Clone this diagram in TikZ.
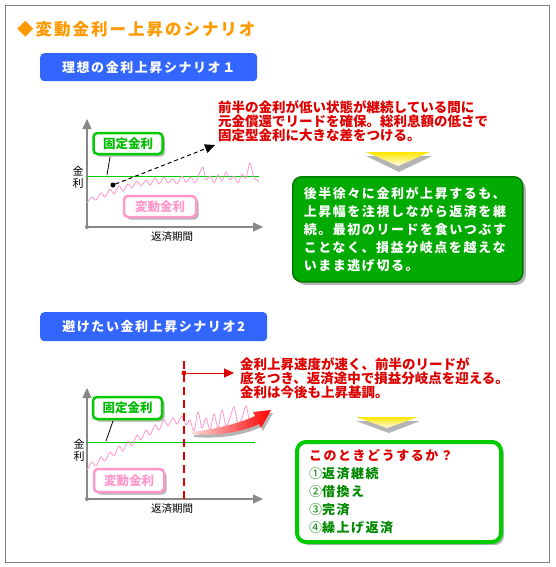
\documentclass[tikz,border=0pt]{standalone}
\usepackage{fontspec}
\setmainfont{Noto Sans CJK JP}
\newfontfamily\jpw{Noto Sans CJK JP}[LetterSpace=12]
\usetikzlibrary{positioning,arrows.meta,shadows}
\definecolor{frm}{HTML}{808080}
\definecolor{ttl}{HTML}{FF9900}
\definecolor{bnr}{HTML}{3366FF}
\definecolor{rtxt}{HTML}{DD0000}
\definecolor{fixg}{HTML}{00CC00}
\definecolor{fixt}{HTML}{00BB00}
\definecolor{pnk}{HTML}{FF99CC}
\definecolor{axg}{HTML}{888888}
\definecolor{boxg}{HTML}{00AA00}
\definecolor{boxd}{HTML}{007A00}
\definecolor{ltxt}{HTML}{008800}
\definecolor{shd}{HTML}{B4B4B4}
\definecolor{yel}{HTML}{FFE600}

\begin{document}
\begin{tikzpicture}[x=1pt,y=-1pt,
  ban/.style={fill=bnr,rounded corners=4pt,text=white,anchor=north west,inner sep=0pt,minimum height=28pt,font=\jpw\bfseries\fontsize{13}{13}\selectfont},
  tag/.style={draw,line width=2.5pt,rounded corners=4pt,fill=white,inner sep=0pt,minimum width=69pt,minimum height=21pt,font=\bfseries\fontsize{12.5}{12.5}\selectfont,drop shadow={shadow xshift=2.5pt,shadow yshift=-2.5pt,fill=shd,opacity=1}},
  note/.style={text=rtxt,anchor=north west,inner sep=0pt,align=left,font=\bfseries\fontsize{13.5}{14}\selectfont},
  msg/.style={anchor=north west,align=left,rounded corners=9pt,inner ysep=0pt,font=\jpw\bfseries\fontsize{13}{18}\selectfont,drop shadow={shadow xshift=3pt,shadow yshift=-3pt,fill=shd,opacity=1}},
  ax/.style={axg,line width=1.3pt,-{Triangle[length=10pt,width=9pt]}},
  lbl/.style={inner sep=0pt,align=center,font=\fontsize{11}{12}\selectfont},
  wave/.style={pnk,line width=0.8pt},
  fix/.style={fixg,line width=1pt},
  dot/.style={circle,inner sep=0pt,minimum size=5pt}
]
\useasboundingbox (0,0) rectangle (555,567);
\fill[white] (0,0) rectangle (555,567);
\draw[frm,line width=1pt] (5,6) rectangle (549,562);

% title
\node[anchor=base west,inner sep=0pt,text=ttl,font=\jpw\bfseries\fontsize{16.5}{16.5}\selectfont] (ttl) at (17,36) {◆変動金利ー上昇のシナリオ};

% scenario 1
\node[ban,minimum width=217pt] (b1) at (40,53) {理想の金利上昇シナリオ１};

\coordinate (o1) at (87,227);
\coordinate (y1) at (87,119);
\coordinate (x1) at (263,227);
\draw[ax] (o1) -- (y1);
\draw[ax] (o1) -- (x1);
\fill[axg] (o1) circle (2);
\coordinate (g1) at (87,176);
\coordinate (h1) at (259,176);
\draw[fix] (g1) -- (h1);
\draw[wave] plot[smooth] coordinates {(87,203) (92,197) (96,200) (101,193) (105,197) (110,189) (114,194) (119,186) (123,191) (128,184) (132,188) (137,181) (141,186) (146,180) (150,185) (155,178) (159,184) (164,177) (168,183) (173,179) (177,184) (182,176) (186,182) (191,177) (195,183) (200,172) (203,167) (206,180) (210,176) (214,183) (218,175) (222,181) (226,172) (230,180) (234,176) (238,183) (242,174) (246,178) (250,163) (254,178) (259,181)};
\node[lbl] (k1) at (78,177.5) {金\\利};
\node[lbl,font=\fontsize{10.5}{10.5}\selectfont] (p1) at (172,237) {返済期間};

\node[tag,draw=fixg,text=fixt] (f1) at (128,143.5) {固定金利};
\node[tag,draw=pnk,text=pnk,minimum width=72pt] (v1) at (160,206.5) {変動金利};
\coordinate (c1) at (110,157);
\coordinate (e1) at (107,175);
\draw[line width=0.8pt] (c1) -- (e1);

\node[dot,fill=black] (d1) at (113,185) {};
\coordinate (t1) at (215,145);
\draw[line width=1pt,dash pattern=on 4pt off 3pt,-{Triangle[length=10pt,width=9pt]}] (d1) -- (t1);

\node[note] (n1) at (218,100) {前半の金利が低い状態が継続している間に\\元金償還でリードを確保。総利息額の低さで\\固定型金利に大きな差をつける。};

\fill[shd] (366,156) -- (432,156) -- (399,172) -- cycle;
\shade[top color=yel,bottom color=yel!10] (366,152) -- (430,152) -- (398,166) -- cycle;

\node[msg,fill=boxg,draw=boxd,line width=1.5pt,text=white,minimum width=230pt,minimum height=105pt,text width=208pt,inner xsep=11pt] (m1) at (292,176) {後半徐々に金利が上昇するも、\\上昇幅を注視しながら返済を継\\続。最初のリードを食いつぶす\\ことなく、損益分岐点を越えな\\いまま逃げ切る。};

% scenario 2
\node[ban,minimum width=227pt,minimum height=29pt] (b2) at (40,312) {避けたい金利上昇シナリオ2};

\coordinate (o2) at (87,499);
\coordinate (y2) at (87,388);
\coordinate (x2) at (263,499);
\draw[ax] (o2) -- (y2);
\draw[ax] (o2) -- (x2);
\fill[axg] (o2) circle (2);
\coordinate (g2) at (87,442);
\coordinate (h2) at (255,442);
\draw[fix] (g2) -- (h2);
\draw[wave] plot[smooth] coordinates {(87,470) (92,462) (96,466) (101,457) (105,461) (110,452) (114,456) (119,446) (123,451) (128,441) (132,446) (137,435) (141,440) (146,430) (150,435) (155,425) (159,430) (164,420) (168,426) (173,418) (177,424) (182,416) (186,425) (190,420) (194,431) (198,412) (202,428) (206,418) (210,430) (214,414) (218,428) (222,410) (226,426) (230,418) (234,407) (238,424) (242,418) (246,406) (249,420)};
\node[lbl] (k2) at (79,450) {金\\利};
\node[lbl,font=\fontsize{10.5}{10.5}\selectfont] (p2) at (172,509) {返済期間};

\node[tag,draw=fixg,text=fixt,minimum height=22pt] (f2) at (127.5,408) {固定金利};
\node[tag,draw=pnk,text=pnk,minimum width=70pt,minimum height=23pt] (v2) at (129,480.5) {変動金利};
\coordinate (c2) at (113,421);
\coordinate (e2) at (106,441);
\draw[line width=0.8pt] (c2) -- (e2);

% break-even line
\coordinate (s2) at (184,361);
\coordinate (u2) at (184,499);
\draw[rtxt,line width=2.5pt,dash pattern=on 8pt off 5pt] (s2) -- (u2);
\node[dot,fill=rtxt] (r1) at (184,373) {};
\coordinate (a2) at (234,373);
\draw[rtxt,line width=1pt,-{Triangle[length=10pt,width=9pt]}] (r1) -- (a2);

% rising swoosh
\fill[shd,shift={(2,3)}] (192,432) .. controls (215,429) and (238,424) .. (255,416) -- (253,412) -- (271,410) -- (261,428) -- (259,424) .. controls (240,433) and (215,436) .. (192,434) -- cycle;
\shade[left color=red!15,right color=red] (192,432) .. controls (215,429) and (238,424) .. (255,416) -- (253,412) -- (271,410) -- (261,428) -- (259,424) .. controls (240,433) and (215,436) .. (192,434) -- cycle;

\node[note] (n2) at (240,357) {金利上昇速度が速く、前半のリードが\\底をつき、返済途中で損益分岐点を迎える。\\金利は今後も上昇基調。};

\fill[shd] (356,421) -- (420,421) -- (389,433) -- cycle;
\shade[top color=yel,bottom color=yel!10] (356,417) -- (418,417) -- (387,428) -- cycle;

\node[msg,fill=white,draw=fixg,line width=4pt,text=ltxt,minimum width=204pt,minimum height=100pt,text width=180pt,inner xsep=12pt] (m2) at (295,440) {\textcolor{rtxt}{このときどうするか？}\\{\mdseries ①}返済継続\\{\mdseries ②}借換え\\{\mdseries ③}完済\\{\mdseries ④}繰上げ返済};
\end{tikzpicture}
\end{document}
